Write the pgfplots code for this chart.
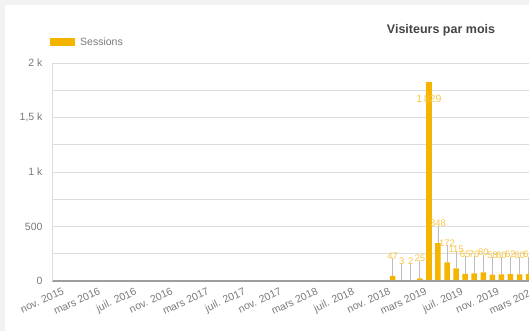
\documentclass[border=0pt]{standalone}
\usepackage{pgfplots}
\pgfplotsset{compat=1.18}
\usepackage{fontspec}
\setmainfont{Liberation Sans}
\definecolor{gold}{HTML}{F4B400}
\definecolor{goldtxt}{HTML}{F7C746}
\definecolor{bggray}{HTML}{F2F2F2}
\definecolor{gridc}{HTML}{DDDDDD}
\definecolor{axisc}{HTML}{9E9E9E}
\definecolor{labc}{HTML}{7A7A7A}
\definecolor{titc}{HTML}{444444}
\definecolor{stemc}{HTML}{BDBDBD}
\begin{document}
\begin{tikzpicture}[x=1pt,y=1pt]
\useasboundingbox (0,0) rectangle (529,331);
\fill[bggray] (0,0) rectangle (529,331);
\fill[white] (5,0) rectangle (529,326);
\begin{scope}
\clip (0,0) rectangle (529,331);
\begin{axis}[
  at={(52pt,50pt)}, anchor=south west,
  scale only axis, width=507.92pt, height=218pt,
  xmin=-0.55, xmax=55.45, ymin=0, ymax=2000,
  axis line style={draw=none},
  ymajorgrids, major grid style={gridc, line width=0.8pt},
  ytick={0,250,...,2000},
  yticklabels={0,,500,,1 k,,{1,5 k},,2 k},
  yticklabel style={font=\fontsize{10.5}{11}\selectfont, text=labc, xshift=-6pt},
  xtick={0,4,...,52},
  xticklabels={nov. 2015, mars 2016, juil. 2016, nov. 2016, mars 2017, juil. 2017, nov. 2017, mars 2018, juil. 2018, nov. 2018, mars 2019, juil. 2019, nov. 2019, mars 2020},
  xticklabel style={font=\fontsize{10.5}{11}\selectfont, text=labc, rotate=25, anchor=north east, xshift=5pt, yshift=-4pt},
  major tick length=0pt,
  ybar, bar width=5.5pt, bar shift=0pt,
  /pgf/number format/assume math mode=true,
  /pgf/number format/1000 sep={\,},
  clip=false,
]
\addplot[fill=gold, draw=none,
  error bars/.cd, y dir=plus, y fixed=160, error mark=none,
  error bar style={stemc, line width=0.6pt}]
  [nodes near coords, nodes near coords style={font=\fontsize{9.5}{10}\selectfont, text=goldtxt, anchor=south, yshift=15pt, inner sep=1pt}]
  coordinates {(37,47) (38,3) (39,2) (40,25) (42,348) (43,172) (44,115) (45,65) (46,70) (47,80) (48,58) (49,60) (50,62) (51,60) (52,62)};
\addplot[fill=gold, draw=none,
  nodes near coords, nodes near coords style={font=\fontsize{10.5}{11}\selectfont, text=goldtxt, anchor=north, yshift=-10pt}]
  coordinates {(41,1829)};
\draw[axisc, line width=1.2pt] (axis cs:-0.55,0) -- (axis cs:55.45,0);
\draw[gridc, line width=0.8pt] (axis cs:-0.55,0) -- (axis cs:-0.55,2000);
\end{axis}
\end{scope}
\fill[gold] (50,285) rectangle (75,293);
\node[anchor=west, text=labc, font=\fontsize{10.5}{11}\selectfont, inner sep=0pt] at (80,289) {Sessions};
\node[anchor=center, text=titc, font=\bfseries\fontsize{12.5}{14}\selectfont, inner sep=0pt] at (441,301) {Visiteurs par mois};
\end{tikzpicture}
\end{document}
